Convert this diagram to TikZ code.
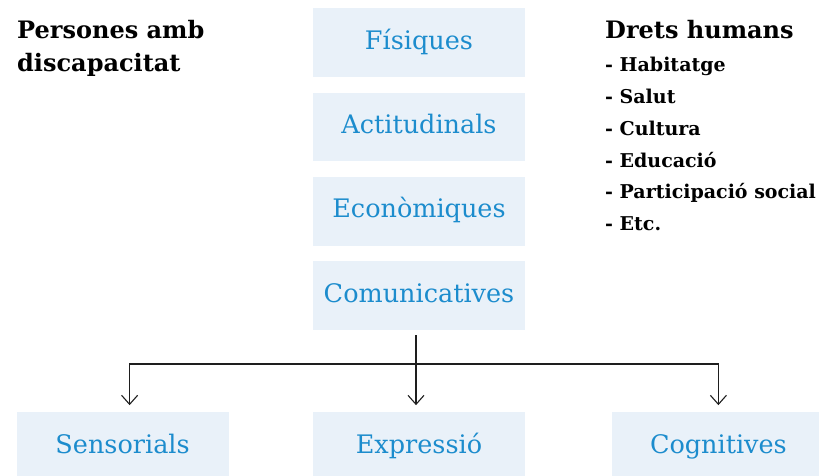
\documentclass[tikz,border=0pt]{standalone}
\usepackage{fontspec}
\setmainfont{DejaVu Serif}
\usetikzlibrary{positioning,arrows.meta}
\definecolor{boxfill}{RGB}{233,241,249}
\definecolor{boxtext}{RGB}{28,140,205}
\definecolor{linegray}{RGB}{30,30,30}

\begin{document}
\begin{tikzpicture}[x=1pt,y=-1pt]
      \tikzstyle{kind}=[rectangle, fill=boxfill, text=boxtext, minimum width=212pt, minimum height=68.5pt, inner sep=0pt, text height=18pt, text depth=5pt, font=\fontsize{25.5}{28}\selectfont, node distance=15.5pt]
      \tikzstyle{head}=[anchor=north west, inner sep=0pt, align=left, font=\bfseries\fontsize{24}{33}\selectfont]
      \tikzstyle{item}=[anchor=north west, inner sep=0pt, align=left, font=\bfseries\fontsize{19}{31.8}\selectfont]
      \tikzstyle{connect}=[-{Straight Barb[length=9pt, width=16pt]}, line width=1.1pt, draw=linegray]
      \tikzstyle{plain}=[line width=1.1pt, draw=linegray]

      \useasboundingbox (0,0) rectangle (819,475);

      % middle column
      \node[kind] (fis) at (419,42.5) {Físiques};
      \node[kind] (act) [below=of fis] {Actitudinals};
      \node[kind] (eco) [below=of act] {Econòmiques};
      \node[kind] (com) [below=of eco] {Comunicatives};

      % bottom row
      \node[kind] (exp) [below=82pt of com] {Expressió};
      \node[kind] (sen) [left=84pt of exp] {Sensorials};
      \node[kind] (cog) [right=87pt of exp] {Cognitives};

      % titles
      \node[head] (pers) at (17,20) {Persones amb\\discapacitat};
      \node[head] (drets) at (605,20) {Drets humans};
      \node[item] (list) [below=18pt of drets.south west, anchor=north west] {- Habitatge\\- Salut\\- Cultura\\- Educació\\- Participació social\\- Etc.};

      % connectors
      \coordinate (hub) at (416,364);
      \draw[plain] ([xshift=-3pt,yshift=-5pt]com.south) -- (hub);
      \draw[connect] (hub) -- ([xshift=-3pt,yshift=7pt]exp.north);
      \draw[connect] (hub) -| ([xshift=7pt,yshift=7pt]sen.north);
      \draw[connect] (hub) -| ([yshift=7pt]cog.north);
    \end{tikzpicture}
\end{document}
